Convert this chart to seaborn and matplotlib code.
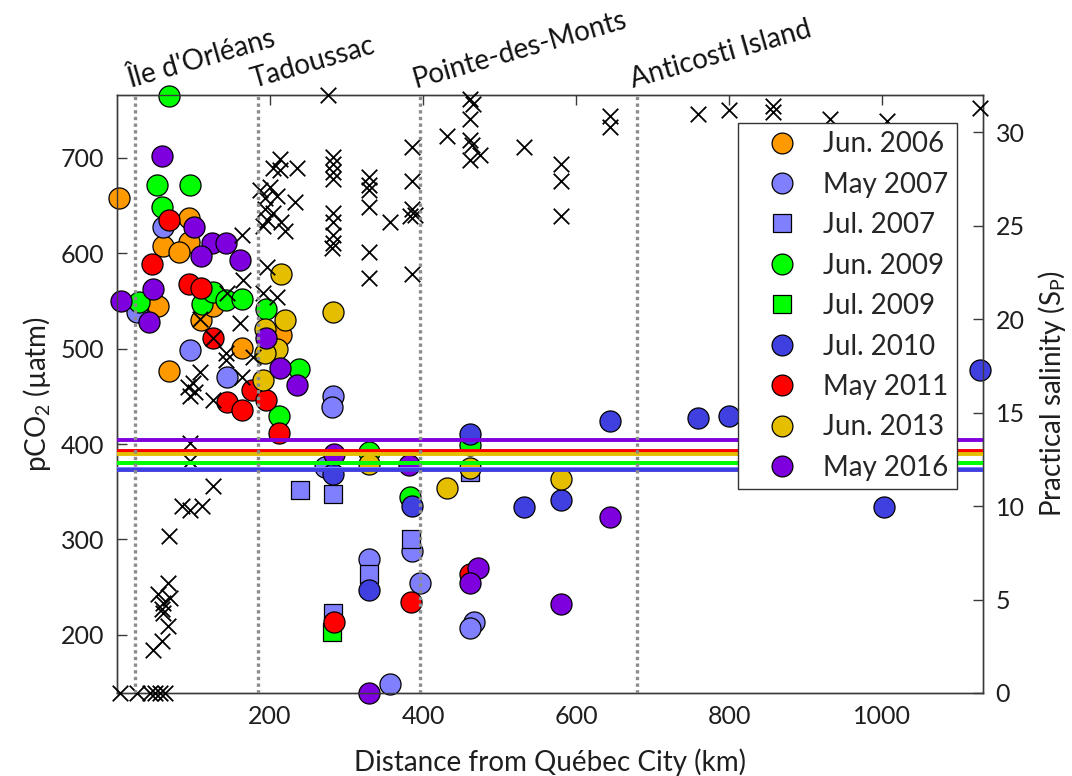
import matplotlib
matplotlib.use("Agg")
import matplotlib.pyplot as plt
import pandas as pd
import seaborn as sns
from matplotlib.lines import Line2D
from matplotlib.transforms import blended_transform_factory

# ---------------- data ----------------
survey_names = ["Jun. 2006", "May 2007", "Jul. 2007", "Jun. 2009", "Jul. 2009",
                "Jul. 2010", "May 2011", "Jun. 2013", "May 2016"]
survey_colors = ["#FF9900", "#8080FF", "#8080FF", "#00FF00", "#00FF00",
                 "#4040E0", "#FF0000", "#E6BE00", "#7F00DF"]
survey_markers = ["o", "o", "s", "o", "s", "o", "o", "o", "o"]

# distance (km) / pCO2 (uatm) per survey
dist_jun2006 = [2.6, 94.5, 60, 94.5, 81.5, 54, 109.4, 125, 163, 68.4, 215]
pco2_jun2006 = [658, 637.5, 608, 612, 601, 544.5, 530.6, 545, 501, 476.7, 514]

dist_may2007 = [60, 95.4, 143.4, 282, 280.6, 272, 329.4, 385, 396, 467, 461.4, 357, 26.5]
pco2_may2007 = [627.7, 499, 470.4, 450, 438.4, 376, 280, 287.7, 254.5, 213.6, 207.3, 148.3, 539]

dist_jul2007 = [239, 282, 384, 329.4, 282, 461]
pco2_jul2007 = [351.7, 347.5, 300, 263.6, 222.4, 371]

dist_jun2009 = [68, 52.7, 95.4, 59, 29, 110.7, 126, 142.5, 163, 194.4, 212, 238, 329, 383, 461]
pco2_jun2009 = [765, 672, 672, 648.6, 549, 547, 559.5, 551, 551.6, 542, 429.6, 479, 392, 344, 399]

dist_jul2009 = [281]
pco2_jul2009 = [203]

dist_jul2010 = [282, 329, 385, 461.4, 532, 580, 645, 759, 800, 1128, 1003]
pco2_jul2010 = [368.5, 247, 335, 411, 333.5, 341, 424, 427.5, 429, 478, 334]

dist_may2011 = [68.4, 46, 93.7, 110, 125, 143.4, 163, 176, 194.4, 212, 384, 283, 461]
pco2_may2011 = [634.7, 589, 568, 564, 510.7, 444, 435.5, 457, 446, 411.7, 234.6, 213, 264]

dist_jun2013 = [215, 282, 219.6, 194, 209, 194, 191, 329, 431, 461, 580]
pco2_jun2013 = [578, 538.6, 530.6, 521, 500, 495, 467, 379, 353.5, 374.4, 363]

dist_may2016 = [59, 101, 124.6, 143, 109.4, 161, 47.5, 4.8, 42, 194.4, 213, 235,
                283.7, 382, 329.4, 472, 462, 645, 580]
pco2_may2016 = [702.5, 627.7, 611, 611, 597, 592.8, 563, 550, 528, 511.7, 480, 461.7,
                390, 378, 139.4, 269.6, 254.5, 323.7, 232]

survey_dist = [dist_jun2006, dist_may2007, dist_jul2007, dist_jun2009, dist_jul2009,
               dist_jul2010, dist_may2011, dist_jun2013, dist_may2016]
survey_pco2 = [pco2_jun2006, pco2_may2007, pco2_jul2007, pco2_jun2009, pco2_jul2009,
               pco2_jul2010, pco2_may2011, pco2_jun2013, pco2_may2016]

# atmospheric pCO2 reference per survey (uatm)
atm_pco2 = [391.5, 373.5, 373.5, 380, 380, 372.6, 392.5, 390, 404.4]

# practical salinity along the transect
sal_dist = [4, 25.7, 43, 49.7, 56, 62.7,
            46.6, 58.4, 67, 60.5, 58.4, 60.5, 69, 54, 67, 68, 84.6, 95.4, 110.7, 126,
            95.4, 95.4, 126, 95.4, 102, 93.2, 99.8, 163, 108.5, 178, 142.5, 143, 125, 161,
            108.5, 209, 191, 143.4, 165, 195.7, 163, 191, 195.7, 204, 215, 219.6, 193.5,
            209, 193.5, 187, 200, 232.7, 204, 235, 213, 213, 276, 282, 282, 282.7, 282,
            282, 282, 282, 282, 281, 329.8, 329.8, 329.8, 329.8, 329.8, 329.8, 357, 385,
            385, 385, 389.5, 383, 385, 431, 461.4, 465.8, 461.4, 461, 463.6, 474.5, 461,
            532, 580, 580, 580, 645, 645, 759, 800, 857, 857, 932, 1006, 1128]
sal_value = [0, 0, 0, 0, 0, 0,
             2.3, 2.8, 3.6, 4.3, 4.5, 4.8, 5.1, 5.3, 5.9, 8.4, 10.0, 9.8, 10.0, 11.1,
             12.4, 13.4, 15.7, 15.9, 16.1, 16.4, 16.6, 16.9, 17.2, 18.0, 18.2, 17.8, 19.0, 19.8,
             20.0, 21.2, 21.4, 21.4, 22.1, 22.8, 24.5, 25.0, 25.3, 25.7, 25.2, 24.7, 25.9,
             26.6, 26.5, 26.9, 27.1, 26.3, 28.1, 28.1, 28.6, 28.0, 32.0, 28.7, 28.3, 27.9, 27.5,
             25.7, 25.2, 24.5, 24.1, 23.8, 27.6, 27.2, 26.9, 26.0, 23.6, 22.2, 25.2, 29.2,
             27.4, 25.9, 25.6, 25.5, 22.4, 29.8, 31.8, 31.5, 30.7, 29.6, 29.3, 28.8, 28.5,
             29.2, 28.3, 27.4, 25.5, 30.9, 30.3, 31.0, 31.2, 31.4, 31.1, 30.7, 30.6, 31.3]

# landmarks along the estuary (km)
place_names = ["Île d'Orléans", "Tadoussac", "Pointe-des-Monts", "Anticosti Island"]
place_dist = [23.5, 184, 396, 680]

# ---------------- style ----------------
sns.set_theme(style="white")
plt.rcParams["font.family"] = ["Lato", "DejaVu Sans"]
plt.rcParams["mathtext.fontset"] = "custom"
plt.rcParams["mathtext.rm"] = "Lato"
plt.rcParams["mathtext.it"] = "Lato:italic"
plt.rcParams["mathtext.default"] = "regular"

TICK_FS = 18
LABEL_FS = 20
LEG_FS = 20
PLACE_FS = 20
edge = "#3a3a3a"
txt = "#1e1e1e"

fig = plt.figure(figsize=(10.72, 7.76), dpi=100)
ax = fig.add_axes([117 / 1072, 83 / 776, 866 / 1072, 598 / 776])
ax2 = ax.twinx()

# pCO2 samples, one survey at a time
for name, col, mk, xs, ys in zip(survey_names, survey_colors, survey_markers,
                                  survey_dist, survey_pco2):
    df = pd.DataFrame({"dist": xs, "pco2": ys})
    size = 150 if mk == "s" else 230
    sns.scatterplot(data=df, x="dist", y="pco2", ax=ax, color=col, marker=mk,
                    s=size, edgecolor="black", linewidth=0.9, clip_on=False,
                    legend=False, zorder=3)

# salinity on the right axis
sal_df = pd.DataFrame({"dist": sal_dist, "sal": sal_value})
sns.scatterplot(data=sal_df, x="dist", y="sal", ax=ax2, color="black", marker="x",
                s=125, linewidth=1.3, clip_on=False, legend=False, zorder=3)

# atmospheric references and landmarks, drawn above the samples
htrans = blended_transform_factory(ax2.transAxes, ax.transData)
for col, val in zip(survey_colors, atm_pco2):
    ax2.plot([0, 1], [val, val], transform=htrans, color=col, lw=2.8, zorder=4,
             solid_capstyle="butt")
for d in place_dist:
    ax2.axvline(d, color="#8c8c8c", lw=2.4, ls=(0, (1, 1)), zorder=4)

ax.set_xlim(0, 1132)
ax.set_ylim(139, 766)
ax2.set_ylim(0, 32)

ax.set_xticks([200, 400, 600, 800, 1000])
ax.set_yticks([200, 300, 400, 500, 600, 700])
ax2.set_yticks([0, 5, 10, 15, 20, 25, 30])

for a in (ax, ax2):
    for s in a.spines.values():
        s.set_color(edge)
        s.set_linewidth(1.0)
ax.tick_params(axis="x", direction="in", length=7, width=1, color=edge, top=True,
               labelsize=TICK_FS, pad=9, labelcolor=txt)
ax.tick_params(axis="y", direction="in", length=7, width=1, color=edge,
               labelsize=TICK_FS, pad=9, labelcolor=txt)
ax2.tick_params(axis="y", direction="in", length=7, width=1, color=edge,
                labelsize=TICK_FS, pad=9, labelcolor=txt)

ax.set_xlabel("Distance from Québec City (km)", fontsize=LABEL_FS, labelpad=14, color=txt)
ax.set_ylabel("pCO$_2$ (µatm)", fontsize=LABEL_FS, labelpad=6, color=txt)
ax2.set_ylabel("Practical salinity (S$_P$)", fontsize=LABEL_FS, labelpad=8, color=txt)

top_trans = blended_transform_factory(ax2.transData, ax2.transAxes)
for name, d in zip(place_names, place_dist):
    ax2.annotate(name, xy=(d, 1.0), xycoords=top_trans, xytext=(-3, 5),
                 textcoords="offset points", rotation=16, rotation_mode="anchor",
                 ha="left", va="baseline", fontsize=PLACE_FS, color="#111111",
                 annotation_clip=False)

handles = [Line2D([], [], ls="none", marker=mk, markersize=(12.5 if mk == "s" else 15),
                  markerfacecolor=col, markeredgecolor="black", markeredgewidth=0.9)
           for col, mk in zip(survey_colors, survey_markers)]
leg = ax2.legend(handles, survey_names, loc="upper right",
                 bbox_to_anchor=(957 / 1072, 1 - 123 / 776), bbox_transform=fig.transFigure,
                 borderaxespad=0, fontsize=LEG_FS, frameon=True, fancybox=False,
                 edgecolor="#333333", framealpha=1, labelspacing=0.52,
                 handlelength=2.57, handletextpad=0.22, borderpad=0.3)
leg.get_frame().set_linewidth(1.0)
leg.set_zorder(10)

fig.savefig("out.png", dpi=100)
